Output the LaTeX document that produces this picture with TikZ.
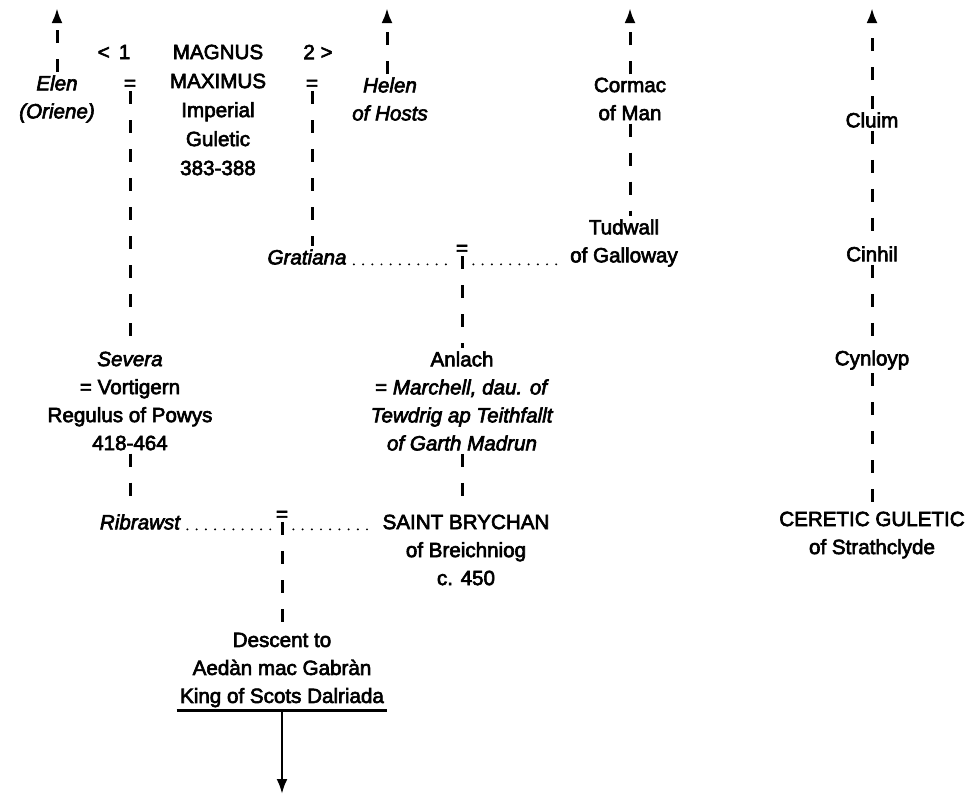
\documentclass[tikz,border=0pt]{standalone}
\usepackage{fontspec}
\setmainfont{Liberation Sans}[UprightFeatures={FakeBold=3}, ItalicFeatures={FakeBold=3}]
\usetikzlibrary{arrows.meta,positioning}

\begin{document}
\begin{tikzpicture}[
    x=0.5pt, y=-0.5pt,
    every node/.style={font=\fontsize{10.3}{14}\selectfont},
    person/.style={align=center, inner sep=1.5pt},
    lady/.style={person, font=\fontsize{10.3}{14}\selectfont\itshape},
    wed/.style={inner sep=0.5pt},
    descline/.style={line width=1.5pt, dash pattern=on 6.5pt off 8pt},
    marry/.style={line width=1.1pt, line cap=round, dash pattern=on 0pt off 4.6pt, shorten <=2pt, shorten >=2pt},
    uparrow/.style={descline, -{Latex[length=7.5pt,width=5.5pt]}},
    arrow/.style={line width=1.3pt, -{Latex[length=7.5pt,width=5.5pt]}}
]
\useasboundingbox (0,0) rectangle (968,798);

% Magnus Maximus and his wives
\node[lady] (elen) at (57,99) {Elen\\(Oriene)};
\node[wed] (first) at (114,52) {<\, 1};
\node[wed] (eqA) at (130,85) {=};
\node[person, font=\fontsize{10.3}{14.5}\selectfont] (magnus) at (218,110) {MAGNUS\\MAXIMUS\\Imperial\\Guletic\\383-388};
\node[wed] (second) at (318,52) {2 >};
\node[wed] (eqB) at (312,85) {=};
\node[lady] (helen) at (390,99) {Helen\\of Hosts};

% Man and Galloway
\node[person] (cormac) at (630,99) {Cormac\\of Man};
\node[person] (tudwall) at (624,243) {Tudwall\\of Galloway};
\node[lady] (gratiana) at (307,257) {Gratiana};
\node[wed] (eqG) at (462,250) {=};

% Strathclyde
\node[person] (cluim) at (872,120) {Cluim};
\node[person] (cinhil) at (872,254) {Cinhil};
\node[person] (cynloyp) at (872,360) {Cynloyp};
\node[person] (ceretic) at (872,535) {CERETIC GULETIC\\of Strathclyde};

% Powys and Garth Madrun
\node[person] (severa) at (130,401) {\textit{Severa}\\= Vortigern\\Regulus of Powys\\418-464};
\node[person] (anlach) at (462,401) {Anlach\\= \textit{Marchell, dau. of}\\\textit{Tewdrig ap Teithfallt}\\\textit{of Garth Madrun}};

% Ribrawst and Brychan
\node[lady] (ribrawst) at (140,522) {Ribrawst};
\node[wed] (eqR) at (282,516) {=};
\node[person] (brychan) at (466,550) {SAINT BRYCHAN\\of Breichniog\\c. 450};
\node[person] (descent) at (282,670) {Descent to\\Aedàn mac Gabràn\\King of Scots Dalriada};

% Ends of the lines
\coordinate (elentop) at (57,8);
\coordinate (helentop) at (387,8);
\coordinate (cormactop) at (630,8);
\coordinate (cluimtop) at (872,8);
\coordinate (descentend) at (282,794);

% Ancestors
\draw[uparrow] (elen) -- (elentop);
\draw[uparrow] (helen.north -| helentop) -- (helentop);
\draw[uparrow] (cormac) -- (cormactop);
\draw[uparrow] (cluim) -- (cluimtop);

% Descent lines
\draw[descline] (eqA) -- (severa);
\draw[descline] (eqB) -- (eqB |- gratiana.north);
\draw[descline] (cormac) -- (cormac |- tudwall.north);
\draw[descline] (eqG) -- (anlach);
\draw[descline] (severa) -- (severa.south |- ribrawst.north);
\draw[descline] (anlach) -- (anlach.south |- brychan.north);
\draw[descline] (eqR) -- (descent);
\draw[descline] (cluim) -- (cinhil);
\draw[descline] (cinhil) -- (cynloyp);
\draw[descline] (cynloyp) -- (ceretic);

% Marriages
\draw[marry] (gratiana.base east) -- (eqG.west |- gratiana.base);
\draw[marry] (eqG.east |- gratiana.base) -- (tudwall.west |- gratiana.base);
\draw[marry] (ribrawst.base east) -- (eqR.west |- ribrawst.base);
\draw[marry] (eqR.east |- ribrawst.base) -- (brychan.west |- ribrawst.base);

% Onward
\draw[line width=1.3pt] (descent.south west) -- (descent.south east);
\draw[arrow] (descent.south) -- (descentend);

\end{tikzpicture}
\end{document}
